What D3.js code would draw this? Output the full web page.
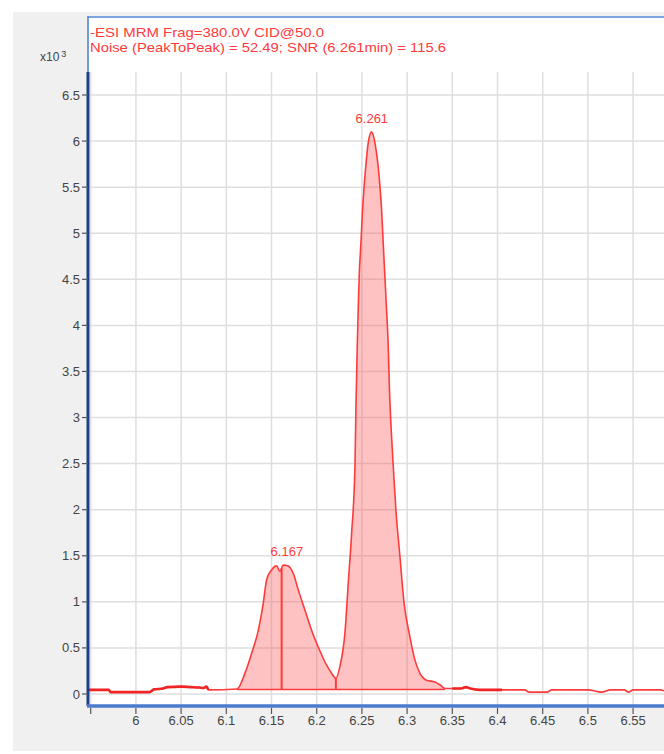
<!DOCTYPE html>
<html>
<head>
<meta charset="utf-8">
<script src="https://cdn.jsdelivr.net/npm/d3@7"></script>
<style>
  html, body { margin: 0; padding: 0; background: #ffffff; }
  svg { display: block; }
  text { font-family: "Liberation Sans Narrow", "Arial Narrow", "Liberation Sans", Arial, sans-serif; }
</style>
</head>
<body>
<svg id="chart" width="664" height="754"></svg>
<script>
// Retention time (min) of each sample of the MRM trace
const times = [
  5.947, 5.970, 5.972, 6.015, 6.020, 6.030, 6.035, 6.050, 6.060, 6.070, 6.075, 6.078, 6.080,
  6.112, 6.1206, 6.128, 6.1354, 6.1408, 6.1446, 6.150, 6.1556, 6.1593, 6.163, 6.1685, 6.174,
  6.1796, 6.187, 6.1944, 6.2017, 6.209, 6.2165, 6.2212,
  6.2257, 6.2312, 6.2349, 6.2386, 6.2423, 6.2434, 6.2448, 6.2459, 6.247, 6.2489, 6.2507, 6.2533, 6.257, 6.2607,
  6.2644, 6.2691, 6.2718, 6.2736, 6.2754, 6.2773, 6.279, 6.2805, 6.2825, 6.2848, 6.2876, 6.292, 6.2965,
  6.3031, 6.3086, 6.3142, 6.3215, 6.3308, 6.3363, 6.342,
  6.350, 6.360, 6.365, 6.370, 6.380, 6.405, 6.430, 6.435, 6.455, 6.460, 6.500, 6.515,
  6.525, 6.540, 6.545, 6.550, 6.580, 6.590, 6.600
];
// Abundance (x10^3 counts) at each retention time
const counts = [
  0.045, 0.045, 0.020, 0.020, 0.050, 0.060, 0.075, 0.080, 0.075, 0.070, 0.065, 0.080, 0.045,
  0.055, 0.225, 0.44, 0.69, 0.98, 1.24, 1.345, 1.39, 1.33, 1.40, 1.39, 1.31,
  1.13, 0.91, 0.69, 0.51, 0.35, 0.225, 0.17,
  0.30, 0.66, 1.20, 1.74, 2.47, 3.10, 3.75, 4.17, 4.53, 4.89, 5.25, 5.61, 5.98, 6.10,
  5.98, 5.61, 5.25, 4.89, 4.53, 4.17, 3.81, 3.30, 2.85, 2.45, 2.00, 1.50, 1.00,
  0.62, 0.37, 0.225, 0.15, 0.13, 0.10, 0.06,
  0.060, 0.060, 0.075, 0.060, 0.045, 0.045, 0.045, 0.020, 0.020, 0.045, 0.045, 0.020,
  0.045, 0.045, 0.020, 0.045, 0.045, 0.020, 0.045
];

// Integrated peaks: apex labels, integration window and baseline level, drop-line times
const peakLabels = ["6.167", "6.261"];
const peakApexTimes = [6.167, 6.261];
const peakApexCounts = [1.40, 6.10];
const integrationStart = 6.112;
const integrationEnd = 6.342;
const integrationLevel = 0.05;
const dropTimes = [6.1612, 6.2212];

// Axis ticks
const xTicks = [5.95, 6.0, 6.05, 6.1, 6.15, 6.2, 6.25, 6.3, 6.35, 6.4, 6.45, 6.5, 6.55, 6.6];
const xTickLabels = ["", "6", "6.05", "6.1", "6.15", "6.2", "6.25", "6.3", "6.35", "6.4", "6.45", "6.5", "6.55", ""];
const yTicks = [0, 0.5, 1, 1.5, 2, 2.5, 3, 3.5, 4, 4.5, 5, 5.5, 6, 6.5];
const yTickLabels = ["0", "0.5", "1", "1.5", "2", "2.5", "3", "3.5", "4", "4.5", "5", "5.5", "6", "6.5"];

// Header text
const titleLines = [
  "-ESI MRM Frag=380.0V CID@50.0",
  "Noise (PeakToPeak) = 52.49; SNR (6.261min) = 115.6"
];
const yUnitLabel = "x10";
const yUnitExp = "3";

const svg = d3.select("#chart");
const RED = "#ff3a3a";

// Layout
const plot = { left: 88, top: 16, right: 700, bottom: 706 };
const x = d3.scaleLinear().domain([5.947, 6.60]).range([plot.left, 678.3]);
const y = d3.scaleLinear().domain([0, 6.5]).range([694, 95]);
const yAxisTop = y(6.75);

// Grey window panel
svg.append("rect").attr("x", 13).attr("y", 12).attr("width", 664).attr("height", 739).attr("fill", "#f0f0f0");
// White plotting area
svg.append("rect").attr("x", plot.left).attr("y", plot.top)
  .attr("width", plot.right - plot.left).attr("height", plot.bottom - plot.top).attr("fill", "#ffffff");

// Grid lines
const grid = svg.append("g");
grid.selectAll("line.v").data(xTicks).join("line")
  .attr("x1", d => x(d)).attr("x2", d => x(d))
  .attr("y1", yAxisTop).attr("y2", plot.bottom)
  .attr("stroke", "#dedede").attr("stroke-width", 1.5);
grid.selectAll("line.h").data(yTicks).join("line")
  .attr("x1", plot.left).attr("x2", plot.right)
  .attr("y1", d => y(d)).attr("y2", d => y(d))
  .attr("stroke", "#dedede").attr("stroke-width", 1.5);

// Trace data
const trace = times.map((t, i) => ({ t, v: counts[i] }));
const integrated = trace.filter(d => d.t >= integrationStart && d.t <= integrationEnd);
const curve = d3.curveMonotoneX;

// Integrated area fill
svg.append("path")
  .datum(integrated)
  .attr("d", d3.area().curve(curve).x(d => x(d.t)).y0(y(integrationLevel)).y1(d => y(d.v)))
  .attr("fill", "rgba(255,85,85,0.36)");

// Integration baseline
svg.append("line")
  .attr("x1", x(integrationStart)).attr("x2", x(integrationEnd))
  .attr("y1", y(integrationLevel)).attr("y2", y(integrationLevel))
  .attr("stroke", RED).attr("stroke-width", 1.5);

// Drop lines at peak split points
const valueAt = t => {
  const i = d3.bisector(d => d.t).left(trace, t);
  if (i <= 0) return trace[0].v;
  const a = trace[i - 1], b = trace[i];
  return a.v + (b.v - a.v) * (t - a.t) / (b.t - a.t);
};
svg.selectAll("line.drop").data(dropTimes).join("line")
  .attr("x1", d => x(d)).attr("x2", d => x(d))
  .attr("y1", y(integrationLevel)).attr("y2", d => y(valueAt(d)))
  .attr("stroke", RED).attr("stroke-width", 2);

// Trace line
const line = d3.line().curve(curve).x(d => x(d.t)).y(d => y(d.v));
svg.append("path").datum(trace).attr("d", line)
  .attr("fill", "none").attr("stroke", RED).attr("stroke-width", 1.6).attr("stroke-linejoin", "round");
// Noisy baseline stretches drawn heavier
[trace.filter(d => d.t <= 6.08), trace.filter(d => d.t >= 6.35 && d.t <= 6.41)].forEach(seg => {
  svg.append("path").datum(seg).attr("d", line)
    .attr("fill", "none").attr("stroke", "#f02424").attr("stroke-width", 2.6);
});

// Peak apex labels
svg.selectAll("text.peak").data(peakLabels).join("text")
  .attr("x", (d, i) => x(peakApexTimes[i]))
  .attr("y", (d, i) => y(peakApexCounts[i]) - 9)
  .attr("text-anchor", "middle")
  .attr("font-size", 13).attr("fill", RED)
  .text(d => d);

// Plot frame (top and left edges)
svg.append("line").attr("x1", plot.left).attr("x2", plot.right).attr("y1", plot.top + 1).attr("y2", plot.top + 1)
  .attr("stroke", "#4f86d6").attr("stroke-width", 1.6);
svg.append("line").attr("x1", plot.left).attr("x2", plot.left).attr("y1", plot.top).attr("y2", yAxisTop)
  .attr("stroke", "#4f86d6").attr("stroke-width", 1.6);

// Y axis
svg.append("line").attr("x1", plot.left).attr("x2", plot.left).attr("y1", yAxisTop).attr("y2", plot.bottom)
  .attr("stroke", "#1d3f86").attr("stroke-width", 3);
svg.selectAll("line.yt").data(yTicks).join("line")
  .attr("x1", plot.left - 6).attr("x2", plot.left)
  .attr("y1", d => y(d)).attr("y2", d => y(d))
  .attr("stroke", "#555").attr("stroke-width", 1.2);
svg.selectAll("text.yl").data(yTicks).join("text")
  .attr("x", plot.left - 8).attr("y", d => y(d) + 4.5)
  .attr("text-anchor", "end").attr("font-size", 13).attr("fill", "#444")
  .text((d, i) => yTickLabels[i]);

// X axis
svg.append("line").attr("x1", plot.left - 1).attr("x2", plot.right).attr("y1", plot.bottom).attr("y2", plot.bottom)
  .attr("stroke", "#4a7bcc").attr("stroke-width", 3.5);
svg.selectAll("line.xt").data(xTicks).join("line")
  .attr("x1", d => x(d)).attr("x2", d => x(d))
  .attr("y1", plot.bottom + 2).attr("y2", plot.bottom + 8)
  .attr("stroke", "#555").attr("stroke-width", 1.2);
svg.selectAll("text.xl").data(xTicks.filter((d, i) => xTickLabels[i] !== "")).join("text")
  .attr("x", d => x(d)).attr("y", 725)
  .attr("text-anchor", "middle").attr("font-size", 13).attr("fill", "#444")
  .text(d => xTickLabels[xTicks.indexOf(d)]);

// Y unit label
const unit = svg.append("text").attr("x", 40).attr("y", 61).attr("font-size", 12).attr("fill", "#444");
unit.append("tspan").text(yUnitLabel);
unit.append("tspan").attr("dx", 2).attr("dy", -4).attr("font-size", 9).text(yUnitExp);

// Header lines
const titleWidths = [234, 356];
svg.selectAll("text.title").data(titleLines).join("text")
  .attr("x", 90).attr("y", (d, i) => 37 + i * 15)
  .attr("font-size", 13).attr("fill", RED)
  .attr("textLength", (d, i) => titleWidths[i]).attr("lengthAdjust", "spacingAndGlyphs")
  .text(d => d);
</script>
</body>
</html>
